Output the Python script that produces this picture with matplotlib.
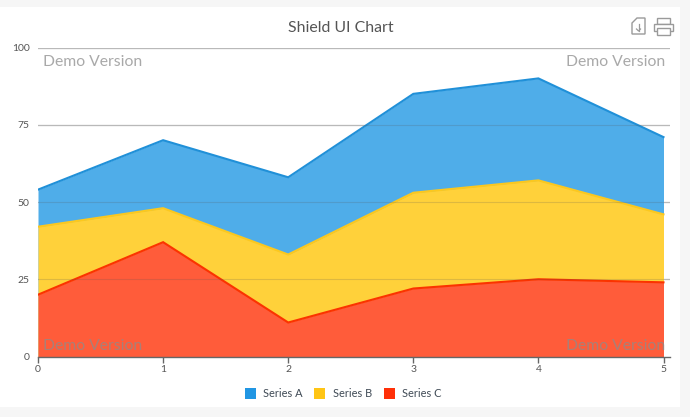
import matplotlib
matplotlib.use('Agg')
import matplotlib.pyplot as plt
from matplotlib.patches import Rectangle, Patch, Polygon

plt.rcParams['font.family'] = ['Lato', 'DejaVu Sans']

# Data
x_vals = [0, 1, 2, 3, 4, 5]
series_a = [54, 70, 58, 85, 90, 71]
series_b = [42, 48, 33, 53, 57, 46]
series_c = [20, 37, 11, 22, 25, 24]
y_ticks = [0, 25, 50, 75, 100]
names = ['Series A', 'Series B', 'Series C']
line_colors = ['#2090d8', '#fcc81e', '#fb3300']
fill_colors = ['#4fade9', '#ffd13a', '#ff5c3a']
legend_colors = ['#2196e3', '#ffc515', '#ff3008']

W, H = 690, 417
fig = plt.figure(figsize=(W / 100, H / 100), dpi=100, facecolor='#f6f6f6')

# White panel behind the chart
fig.patches.append(Rectangle((0, 1 - 407 / H), 680 / W, 400 / H, transform=fig.transFigure,
                             facecolor='white', edgecolor='none', zorder=-5))

ax = fig.add_axes([38 / W, 1 - 356.5 / H, (670 - 38) / W, (356.5 - 47.5) / H])
ax.set_facecolor('none')
ax.set_xlim(0, 5 * 632 / 625.5)
ax.set_ylim(0, 100)

# Grid under the areas, and a faint copy that shows through them
for t in y_ticks[1:]:
    ax.axhline(t, color='#d2d2d2', lw=1, zorder=1)
    ax.axhline(t, color='#555555', lw=0.8, alpha=0.2, zorder=6)

for vals, lc, fc, z in zip([series_a, series_b, series_c], line_colors, fill_colors, [2, 3, 4]):
    ax.fill_between(x_vals, vals, 0, color=fc, lw=0, zorder=z)
    ax.plot(x_vals, vals, color=lc, lw=1.5, zorder=z + 0.5, solid_joinstyle='miter')

for s in ['top', 'right', 'left']:
    ax.spines[s].set_visible(False)
ax.spines['bottom'].set_color('#666666')
ax.spines['bottom'].set_linewidth(1)
ax.spines['bottom'].set_zorder(7)

ax.set_xticks(x_vals)
ax.set_yticks(y_ticks)
ax.tick_params(axis='x', length=4, width=1, color='#666666', labelcolor='#555555', labelsize=7.5, pad=2)
ax.tick_params(axis='y', length=0, labelcolor='#555555', labelsize=7.5, pad=6)

# Title
fig.text(341 / W, 1 - 27.5 / H, 'Shield UI Chart', ha='center', va='center', fontsize=11.4, color='#555555')

# Demo watermarks
for px, py, ha in [(43, 62.5, 'left'), (665, 62.5, 'right'), (43, 346.5, 'left'), (665, 346.5, 'right')]:
    fig.text(px / W, 1 - py / H, 'Demo Version', ha=ha, va='center', fontsize=11.3,
             color='#8c8c8c', alpha=0.75, zorder=10)

# Legend
handles = [Patch(facecolor=c, edgecolor='none') for c in legend_colors]
fig.legend(handles, names, ncol=3, loc='center', bbox_to_anchor=(343 / W, 1 - 393.5 / H), frameon=False,
           fontsize=7.9, labelcolor='#3f4a55', handlelength=1.0, handleheight=1.15,
           handletextpad=0.65, columnspacing=1.1)


# Toolbar icons, in pixel positions
def px_pt(x, y):
    return (x / W, 1 - y / H)


icon_color = '#9a9a9a'
fig.patches.append(Polygon([px_pt(*p) for p in [(637, 18), (645, 18), (645, 34), (632, 34), (632, 23)]],
                           closed=True, transform=fig.transFigure, fill=False, edgecolor=icon_color, lw=1))
fig.add_artist(plt.Line2D([px_pt(638.5, 0)[0]] * 2, [px_pt(0, 24)[1], px_pt(0, 31)[1]], color=icon_color, lw=0.9))
fig.add_artist(plt.Line2D([px_pt(636.5, 0)[0], px_pt(638.5, 0)[0], px_pt(640.5, 0)[0]],
                          [px_pt(0, 29)[1], px_pt(0, 31)[1], px_pt(0, 29)[1]], color=icon_color, lw=0.9))
for x0, y0, x1, y1 in [(657, 18, 670, 24), (654, 24, 673, 31), (657, 28, 670, 35)]:
    fig.patches.append(Rectangle(px_pt(x0, y1), (x1 - x0) / W, (y1 - y0) / H, transform=fig.transFigure,
                                 facecolor='white', edgecolor=icon_color, lw=1))

fig.savefig('out.png', dpi=100, facecolor=fig.get_facecolor())
